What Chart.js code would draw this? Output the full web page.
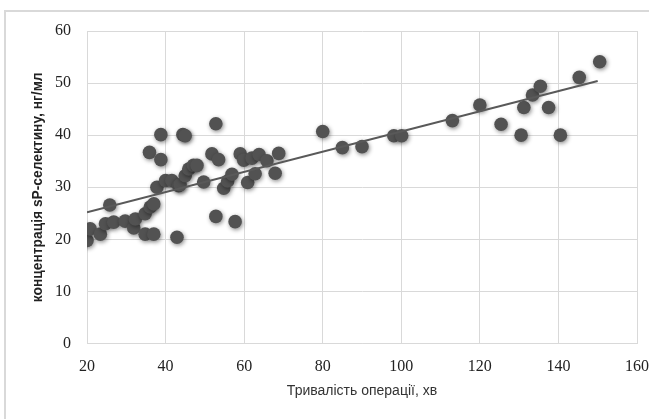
<!DOCTYPE html>
<html>
<head>
    <script src="https://cdn.jsdelivr.net/npm/chart.js@4/dist/chart.umd.min.js"></script>
    <style>
        body {
            margin: 0;
            overflow: hidden;
            background-color: #ffffff;
        }
        .frame {
            position: absolute;
            left: 4px;
            top: 10px;
            width: 700px;
            height: 420px;
            border-left: 2px solid #d9d9d9;
            border-top: 2px solid #d9d9d9;
        }
        .wrapper {
            position: absolute;
            left: 0;
            top: 0;
            width: 690px;
            height: 419px;
        }
    </style>
</head>
<body>
    <div class="frame"></div>
    <div class="wrapper">
        <canvas id="sp_chart" width="690" height="419"></canvas>
    </div>
    <script>
        // operation duration, min
        var durations = [20, 20.8, 23.4, 24.7, 25.8, 26.8, 29.7, 31.9, 32.3, 34.8,
            34.8, 36.1, 37, 37, 35.9, 38.8, 38.8, 37.8, 40, 41.6,
            42.9, 43.3, 43.7, 45, 44.4, 45, 45.9, 47.1, 48, 49.7,
            51.8, 53.5, 52.8, 52.8, 54.8, 55.8, 56.9, 57.7, 59, 59.9,
            60.9, 62, 62.8, 63.8, 65.8, 67.9, 68.8, 80, 85, 90,
            98.1, 100.1, 113, 120, 125.4, 130.5, 131.2, 133.4, 135.4, 137.5,
            140.5, 145.3, 150.5];
        // sP-selectin, ng/ml
        var selectin = [19.8, 22, 21, 23, 26.6, 23.3, 23.5, 22.2, 23.9, 21,
            24.9, 26.2, 26.8, 21, 36.7, 40.1, 35.3, 30, 31.3, 31.3,
            20.4, 30.3, 30.5, 32.2, 40.1, 39.9, 33.5, 34.2, 34.2, 31,
            36.4, 35.3, 42.2, 24.4, 29.8, 31.2, 32.5, 23.4, 36.4, 35.2,
            30.9, 35.6, 32.6, 36.3, 35.1, 32.7, 36.5, 40.7, 37.6, 37.8,
            39.9, 39.9, 42.8, 45.8, 42.1, 40, 45.3, 47.7, 49.4, 45.3,
            40, 51.1, 54.1];
        // linear trend end points
        var trendX = [20, 150];
        var trendY = [25.2, 50.4];
        var xTicks = [20, 40, 60, 80, 100, 120, 140, 160];
        var yTicks = [0, 10, 20, 30, 40, 50, 60];

        var points = [];
        for (var i = 0; i < durations.length; i++) {
            points.push({x: durations[i], y: selectin[i]});
        }
        var trend = [];
        for (var j = 0; j < trendX.length; j++) {
            trend.push({x: trendX[j], y: trendY[j]});
        }

        // soft shadow under the markers, like the original
        var markerShadow = {
            id: 'markerShadow',
            beforeDatasetDraw: function(chart, args) {
                if (args.index !== 1) return;
                var c = chart.ctx;
                c.save();
                c.shadowColor = 'rgba(0,0,0,0.45)';
                c.shadowBlur = 4;
                c.shadowOffsetX = 1;
                c.shadowOffsetY = 1.5;
            },
            afterDatasetDraw: function(chart, args) {
                if (args.index !== 1) return;
                chart.ctx.restore();
            }
        };

        var ctx = document.getElementById('sp_chart').getContext('2d');
        var spChart = new Chart(ctx, {
            type: 'scatter',
            data: {
                datasets: [{
                    type: 'line',
                    data: trend,
                    borderColor: '#595959',
                    borderWidth: 2,
                    pointRadius: 0,
                    fill: false,
                    order: 0
                }, {
                    data: points,
                    backgroundColor: '#525252',
                    borderWidth: 0,
                    pointRadius: 6.8,
                    order: 1
                }]
            },
            options: {
                responsive: false,
                animation: false,
                layout: {
                    padding: {left: 0, top: 31, right: 53, bottom: 0}
                },
                plugins: {
                    legend: {display: false},
                    tooltip: {enabled: false}
                },
                scales: {
                    x: {
                        type: 'linear',
                        min: 20,
                        max: 160,
                        afterBuildTicks: function(scale) {
                            scale.ticks = xTicks.map(function(v) { return {value: v}; });
                        },
                        afterFit: function(scale) {
                            scale.height = 75.5;
                        },
                        grid: {color: '#d9d9d9', drawTicks: false},
                        border: {color: '#d9d9d9'},
                        ticks: {
                            padding: 14,
                            color: '#222222',
                            font: {family: 'Liberation Serif', size: 16}
                        },
                        title: {
                            display: true,
                            text: 'Тривалість операції, хв',
                            color: '#333333',
                            font: {family: 'Liberation Sans', size: 14},
                            padding: {top: 4, bottom: 19}
                        }
                    },
                    y: {
                        min: 0,
                        max: 60,
                        afterBuildTicks: function(scale) {
                            scale.ticks = yTicks.map(function(v) { return {value: v}; });
                        },
                        afterFit: function(scale) {
                            scale.width = 87;
                        },
                        grid: {color: '#d9d9d9', drawTicks: false},
                        border: {color: '#d9d9d9'},
                        ticks: {
                            padding: 16,
                            color: '#222222',
                            font: {family: 'Liberation Serif', size: 16}
                        },
                        title: {
                            display: true,
                            text: 'концентрація sP-селектину, нг/мл',
                            color: '#222222',
                            font: {family: 'Liberation Sans', size: 13.8, weight: 'bold'},
                            padding: {top: 30, bottom: 0}
                        }
                    }
                }
            },
            plugins: [markerShadow]
        });
    </script>
</body>
</html>
